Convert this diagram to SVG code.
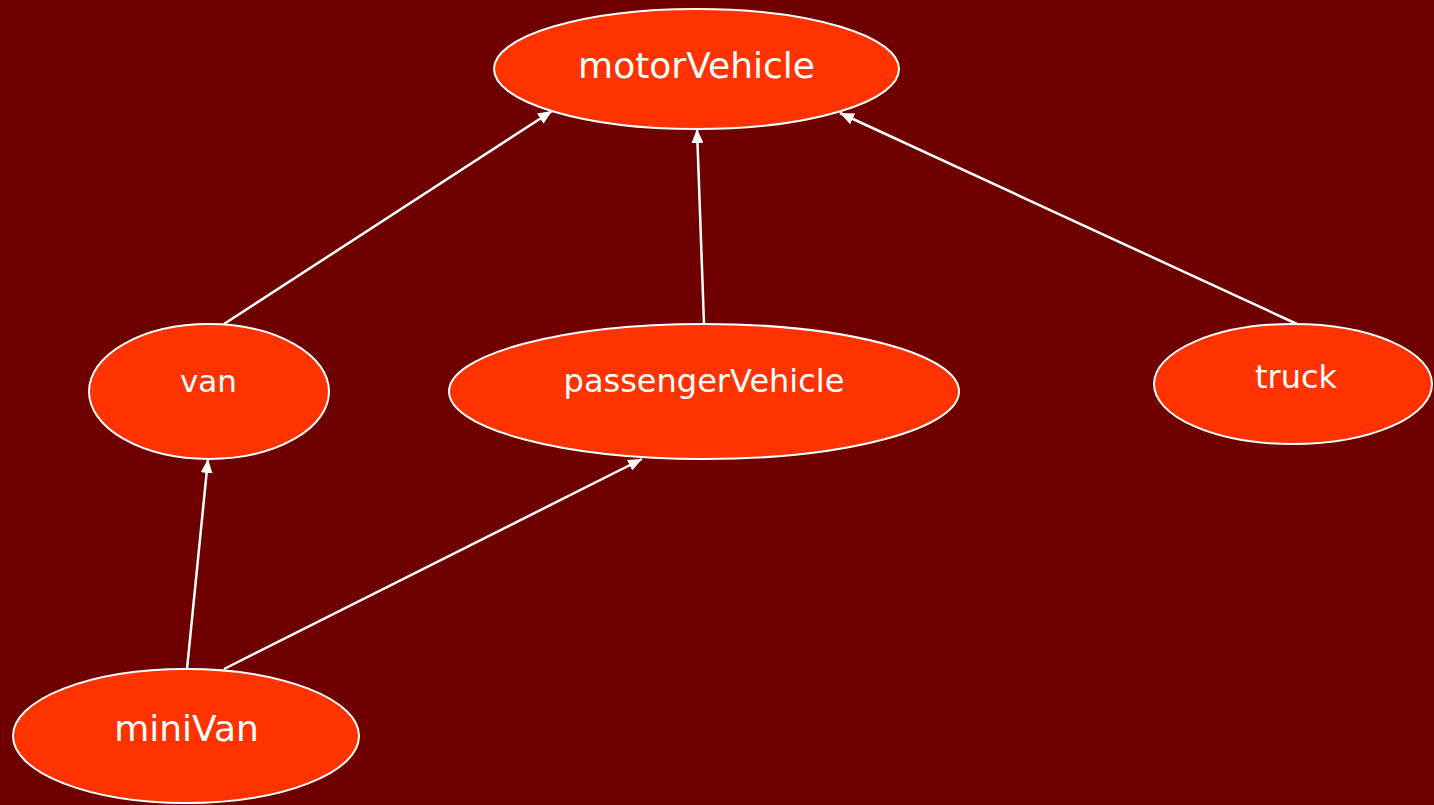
<svg xmlns="http://www.w3.org/2000/svg" width="1434" height="805" viewBox="0 0 1434 805">
<defs>
<marker id="arr" viewBox="0 0 14 12" refX="14" refY="6" markerWidth="14" markerHeight="12" markerUnits="userSpaceOnUse" orient="auto">
<path d="M0,0 L14,6 L0,12 Z" fill="#FFFFFF"/>
</marker>
<style>
.n{fill:#FF3300;stroke:#FFFFFF;stroke-width:2}
.t{fill:#FFFFFF;font-family:"DejaVu Sans",Verdana,sans-serif;text-anchor:middle}
.e{stroke:#FFFFFF;stroke-width:2.5;fill:none;marker-end:url(#arr)}
</style>
</defs>
<rect width="1434" height="805" fill="#6E0000"/>
<g id="connectors">
<line class="e" x1="224" y1="324" x2="552" y2="111"/>
<line class="e" x1="704" y1="324" x2="697" y2="129"/>
<line class="e" x1="1297" y1="324" x2="840" y2="113"/>
<line class="e" x1="187" y1="669" x2="208" y2="459"/>
<line class="e" x1="224" y1="669" x2="642" y2="459"/>
</g>
<g id="motorVehicle">
<ellipse class="n" cx="696.5" cy="69" rx="202.5" ry="60"/>
<text class="t" x="696.5" y="78" font-size="36">motorVehicle</text>
</g>
<g id="van">
<ellipse class="n" cx="209" cy="391.5" rx="120" ry="67.5"/>
<text class="t" x="208.5" y="392" font-size="31">van</text>
</g>
<g id="passengerVehicle">
<ellipse class="n" cx="704" cy="391.5" rx="255" ry="67.5"/>
<text class="t" x="704" y="392" font-size="32">passengerVehicle</text>
</g>
<g id="truck">
<ellipse class="n" cx="1293" cy="384" rx="139" ry="60"/>
<text class="t" x="1296" y="388" font-size="32">truck</text>
</g>
<g id="miniVan">
<ellipse class="n" cx="186" cy="736" rx="173" ry="67"/>
<text class="t" x="186.5" y="741" font-size="36">miniVan</text>
</g>
</svg>
